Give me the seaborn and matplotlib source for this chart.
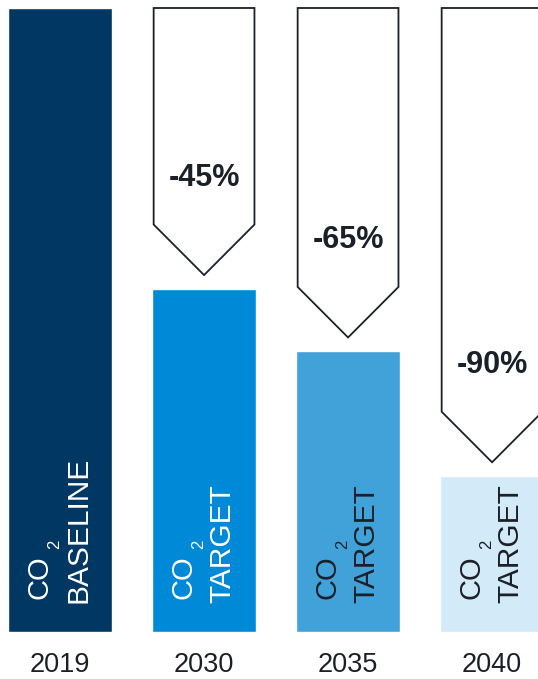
import matplotlib
matplotlib.use("Agg")
import matplotlib.pyplot as plt
from matplotlib.patches import Polygon
import seaborn as sns

years = ["2019", "2030", "2035", "2040"]
levels = [100, 55, 45, 25]
cuts = [None, "-45%", "-65%", "-90%"]
kinds = ["BASELINE", "TARGET", "TARGET", "TARGET"]
colors = ["#003763", "#0089D7", "#40A2D8", "#D3EAF9"]
text_colors = ["white", "white", "#1b2028", "#1b2028"]

sns.set_style("white")
plt.rcParams["font.family"] = ["Liberation Sans", "DejaVu Sans"]

fig = plt.figure(figsize=(5.38, 6.79), dpi=100)
ax = fig.add_axes([0, 0, 1, 1])

sns.barplot(x=years, y=levels, hue=years, palette=colors, legend=False,
            width=0.722, saturation=1, ax=ax)

dark = "#1b2028"
aw = 0.35
for i, (lv, cut) in enumerate(zip(levels, cuts)):
    # labels inside bars
    ax.text(i - 0.145, 5.3, "CO", rotation=90, rotation_mode="anchor",
            ha="left", va="center", fontsize=21, color=text_colors[i])
    ax.text(i - 0.035, 13.3, "2", rotation=90, rotation_mode="anchor",
            ha="left", va="center", fontsize=12, color=text_colors[i])
    ax.text(i + 0.13, 4.6, kinds[i], rotation=90, rotation_mode="anchor",
            ha="left", va="center", fontsize=21.5, color=text_colors[i])
    # year under the bar
    ax.text(i, -5.3, years[i], ha="center", va="center", fontsize=19.5, color=dark)
    if cut is None:
        continue
    tip = lv + 2.2
    shoulder = tip + 8.1
    arrow = Polygon([(i - aw, 100), (i + aw, 100), (i + aw, shoulder),
                     (i, tip), (i - aw, shoulder)], closed=True,
                    facecolor="white", edgecolor=dark, linewidth=1.3,
                    joinstyle="miter", zorder=3)
    ax.add_patch(arrow)
    ax.text(i, shoulder + 7.5, cut, ha="center", va="center", fontsize=22,
            fontweight="bold", color=dark, zorder=4)

ax.set_xlim(-0.417, 3.319)
ax.set_ylim(-7.53, 101.28)
ax.axis("off")

fig.savefig("out.png", dpi=100, facecolor="white")
